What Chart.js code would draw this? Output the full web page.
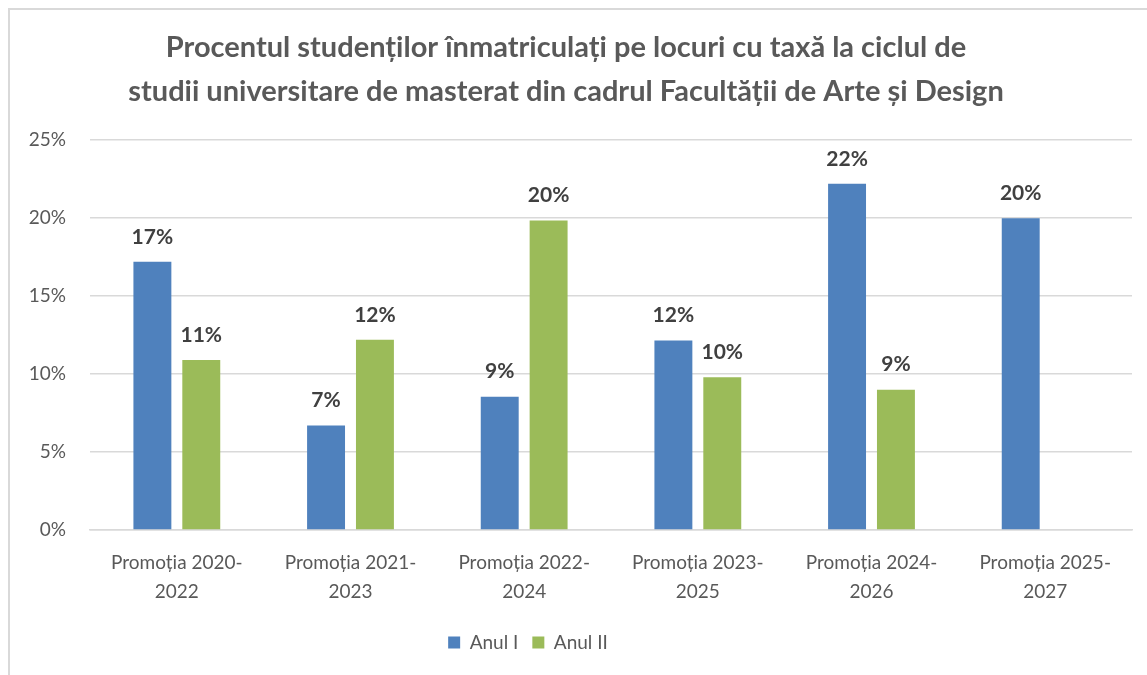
<!DOCTYPE html>
<html>
<head>
<meta charset="utf-8">
<script src="https://cdn.jsdelivr.net/npm/chart.js@4"></script>
<style>
  body { margin: 0; background: #fff; }
  #frame { position: absolute; left: 8px; top: 8px; width: 2000px; height: 2000px;
           border-left: 2px solid #d9d9d9; border-top: 2px solid #d9d9d9; }
  #myChart { position: absolute; left: 0; top: 0; }
</style>
</head>
<body>
<div id="frame"></div>
<canvas id="myChart" width="1147" height="675"></canvas>
<script>
// date
const categorii = [
  ['Promoția 2020-', '2022'],
  ['Promoția 2021-', '2023'],
  ['Promoția 2022-', '2024'],
  ['Promoția 2023-', '2025'],
  ['Promoția 2024-', '2026'],
  ['Promoția 2025-', '2027'],
];
const anulI = [17.2, 6.7, 8.55, 12.15, 22.2, 20.0];
const anulII = [10.9, 12.2, 19.85, 9.8, 9.0, null];
const titlu = [
  'Procentul studenților înmatriculați pe locuri cu taxă la ciclul de',
  'studii universitare de masterat din cadrul Facultății de Arte și Design',
];

const FONT = 'Lato, "Noto Sans", sans-serif';

// etichete deasupra barelor
const etichete = {
  id: 'etichete',
  afterDatasetsDraw(chart) {
    const ctx = chart.ctx;
    ctx.save();
    ctx.font = 'bold 21px ' + FONT;
    ctx.fillStyle = '#404040';
    ctx.textAlign = 'center';
    ctx.textBaseline = 'middle';
    chart.data.datasets.forEach((ds, i) => {
      const meta = chart.getDatasetMeta(i);
      meta.data.forEach((bar, j) => {
        const v = ds.data[j];
        if (v == null) return;
        ctx.fillText(Math.round(v) + '%', bar.x, bar.y - 25);
      });
    });
    ctx.restore();
  },
};

// legenda e putin mai la stanga in original
const mutaLegenda = {
  id: 'mutaLegenda',
  afterLayout(chart) {
    chart.legend.left -= 38;
    chart.legend.right -= 38;
  },
};

const ctx = document.getElementById('myChart').getContext('2d');
const chart = new Chart(ctx, {
  type: 'bar',
  data: {
    labels: categorii,
    datasets: [
      { label: 'Anul I', data: anulI, backgroundColor: '#4f81bd' },
      { label: 'Anul II', data: anulII, backgroundColor: '#9bbb59' },
    ],
  },
  options: {
    responsive: false,
    animation: false,
    barPercentage: 0.776,
    categoryPercentage: 0.563,
    layout: { padding: { left: 0, right: 15, top: 0, bottom: 13 } },
    scales: {
      x: {
        afterFit: (axis) => { axis.height = 89; },
        grid: { display: false },
        border: { color: '#d9d9d9', width: 1.5 },
        ticks: {
          color: '#595959',
          font: { family: FONT, size: 19, lineHeight: 1.5 },
          padding: 11,
          maxRotation: 0,
          autoSkip: false,
        },
      },
      y: {
        min: 0,
        max: 25,
        afterFit: (axis) => { axis.width = 90; },
        grid: { color: '#d9d9d9', lineWidth: 1.5, drawTicks: false },
        border: { display: false },
        ticks: {
          stepSize: 5,
          padding: 24,
          color: '#595959',
          font: { family: FONT, size: 19 },
          callback: (v) => v + '%',
        },
      },
    },
    plugins: {
      title: {
        display: true,
        text: titlu,
        color: '#595959',
        font: { family: FONT, size: 29, weight: 'bold', lineHeight: 1.52 },
        padding: { top: 26, bottom: 26 },
      },
      legend: {
        position: 'bottom',
        labels: {
          boxWidth: 12,
          boxHeight: 12,
          padding: 14,
          color: '#595959',
          font: { family: FONT, size: 19 },
        },
      },
      tooltip: { enabled: false },
    },
  },
  plugins: [etichete, mutaLegenda],
});
</script>
</body>
</html>
